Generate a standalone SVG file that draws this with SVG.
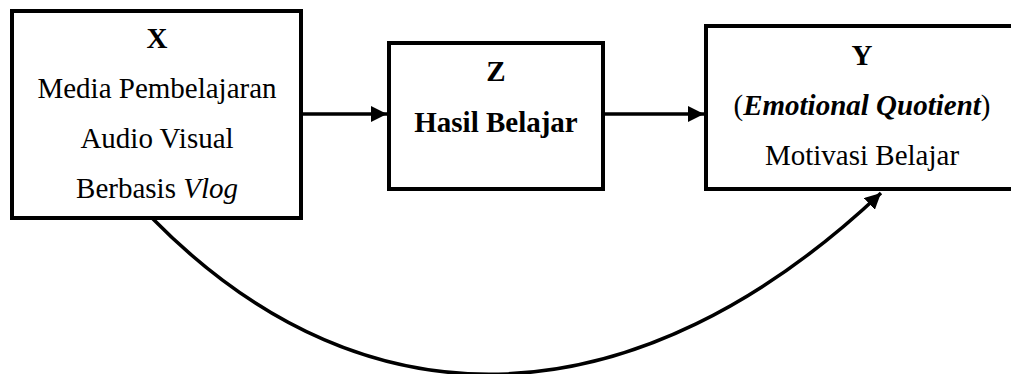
<svg xmlns="http://www.w3.org/2000/svg" width="1011" height="374" viewBox="0 0 1011 374">
<style>
.box{fill:#fff;stroke:#000;stroke-width:4}
.t{font-family:"Liberation Serif","Times New Roman",serif;font-size:29px;fill:#000;text-anchor:middle}
.b{font-weight:bold}
.i{font-style:italic}
.c{fill:none;stroke:#000;stroke-width:3.5}
</style>
<defs>
<marker id="ah" markerUnits="userSpaceOnUse" markerWidth="16" markerHeight="16" refX="16" refY="8" orient="auto">
<path d="M0,0 L16,8 L0,16 Z" fill="#000"/>
</marker>
</defs>
<rect width="1011" height="374" fill="#fff"/>
<g id="node-x">
<rect class="box" x="12" y="11" width="289" height="207"/>
<text class="t b" x="157" y="48">X</text>
<text class="t" x="157" y="98">Media Pembelajaran</text>
<text class="t" x="157" y="148">Audio Visual</text>
<text class="t" x="157" y="198">Berbasis <tspan class="i">Vlog</tspan></text>
</g>
<g id="node-z">
<rect class="box" x="389" y="43" width="214" height="146"/>
<text class="t b" x="496" y="81">Z</text>
<text class="t b" x="496" y="132">Hasil Belajar</text>
</g>
<g id="node-y">
<rect class="box" x="706" y="26" width="314" height="163"/>
<text class="t b" x="862" y="65">Y</text>
<text class="t" x="862" y="115">(<tspan class="b i">Emotional Quotient</tspan>)</text>
<text class="t" x="862" y="165">Motivasi Belajar</text>
</g>
<g id="connectors">
<line class="c" x1="303" y1="114" x2="387" y2="114" marker-end="url(#ah)"/>
<line class="c" x1="605" y1="114" x2="704" y2="114" marker-end="url(#ah)"/>
<path class="c" d="M152,218 C370,440 640,420 881,193" marker-end="url(#ah)"/>
</g>
</svg>
